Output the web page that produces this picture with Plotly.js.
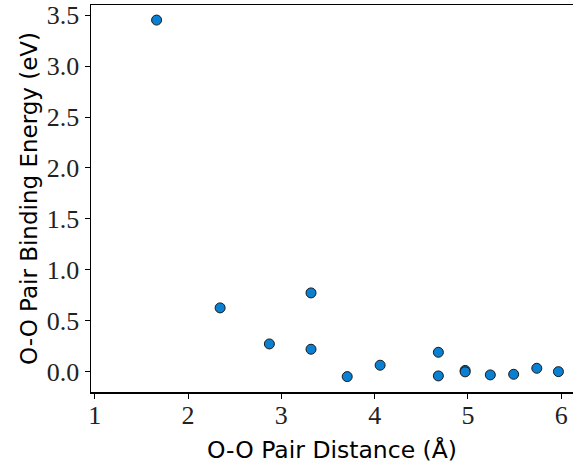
<!DOCTYPE html>
<html>
<head>
<meta charset="utf-8">
<script src="https://cdn.plot.ly/plotly-3.0.1.min.js"></script>
<style>html,body{margin:0;padding:0;background:#fff;}#chart{width:574px;height:466px;}</style>
</head>
<body>
<div id="chart"></div>
<script>
const distance = [1.663, 2.344, 2.872, 3.318, 3.318, 3.706, 4.059, 4.683, 4.683, 4.97, 4.97, 5.24, 5.49, 5.738, 5.97];
const energy   = [3.452, 0.626, 0.272, 0.773, 0.220, -0.049, 0.063, 0.190, -0.042, 0.012, -0.002, -0.032, -0.026, 0.033, 0.000];
const xTicks = [1, 2, 3, 4, 5, 6];
const yTicks = [0.0, 0.5, 1.0, 1.5, 2.0, 2.5, 3.0, 3.5];

const tickFont = {family: 'Liberation Serif, serif', size: 26, color: '#222'};

Plotly.newPlot('chart', [{
  x: distance, y: energy, type: 'scatter', mode: 'markers',
  marker: {size: 10, color: '#0a80d2', line: {color: '#1a1a1a', width: 1}},
  hoverinfo: 'x+y'
}], {
  width: 574, height: 466,
  margin: {l: 91, r: 1, t: 5, b: 74},
  paper_bgcolor: '#fff', plot_bgcolor: '#fff',
  showlegend: false,
  xaxis: {
    range: [0.96, 6.126], tickvals: xTicks, ticktext: xTicks.map(String),
    showgrid: false, zeroline: false, showline: true, linecolor: '#000', linewidth: 1.5,
    mirror: true, ticks: 'outside', ticklen: 5, tickcolor: '#000', tickwidth: 1,
    ticklabelstandoff: -6,
    tickfont: tickFont,
    title: {text: 'O-O Pair Distance (Å)', font: {family: 'DejaVu Sans, sans-serif', size: 23.5, color: '#000'}, standoff: 13}
  },
  yaxis: {
    range: [-0.2, 3.6], tickvals: yTicks, ticktext: yTicks.map(v => v.toFixed(1)),
    showgrid: false, zeroline: false, showline: true, linecolor: '#000', linewidth: 1.5,
    ticks: 'outside', ticklen: 5, tickcolor: '#000', tickwidth: 1,
    tickfont: tickFont,
    title: {text: 'O-O Pair Binding Energy (eV)', font: {family: 'DejaVu Sans, sans-serif', size: 23, color: '#000'}, standoff: 2}
  }
}, {displayModeBar: false, staticPlot: true});
</script>
</body>
</html>
